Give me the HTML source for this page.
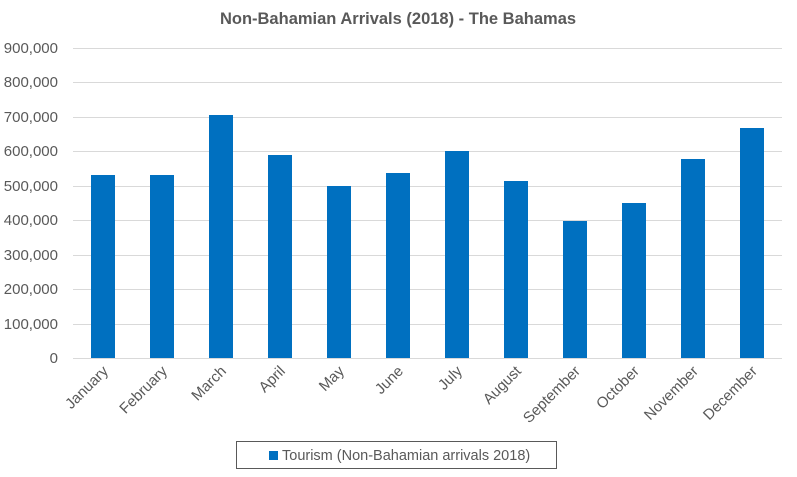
<!DOCTYPE html>
<html><head><style>body{margin:0;background:#fff}</style></head><body>
<svg width="797" height="472" xmlns="http://www.w3.org/2000/svg" font-family="Liberation Sans, sans-serif">
<rect width="797" height="472" fill="#fff"/>
<text x="398" y="24" text-anchor="middle" font-size="16.5" font-weight="bold" fill="#595959">Non-Bahamian Arrivals (2018) - The Bahamas</text>
<g stroke="#d9d9d9" stroke-width="1">
<line x1="73" x2="782" y1="48.5" y2="48.5"/><line x1="73" x2="782" y1="82.5" y2="82.5"/><line x1="73" x2="782" y1="117.5" y2="117.5"/><line x1="73" x2="782" y1="151.5" y2="151.5"/><line x1="73" x2="782" y1="186.5" y2="186.5"/><line x1="73" x2="782" y1="220.5" y2="220.5"/><line x1="73" x2="782" y1="255.5" y2="255.5"/><line x1="73" x2="782" y1="289.5" y2="289.5"/><line x1="73" x2="782" y1="324.5" y2="324.5"/><line x1="73" x2="782" y1="358.5" y2="358.5"/>
</g>
<g font-size="15" fill="#595959" text-anchor="end">
<text x="58" y="53">900,000</text><text x="58" y="87">800,000</text><text x="58" y="122">700,000</text><text x="58" y="156">600,000</text><text x="58" y="191">500,000</text><text x="58" y="225">400,000</text><text x="58" y="260">300,000</text><text x="58" y="294">200,000</text><text x="58" y="329">100,000</text><text x="58" y="363">0</text>
</g>
<g fill="#0070c0">
<rect x="91" y="175" width="24" height="183"/><rect x="150" y="175" width="24" height="183"/><rect x="209" y="115" width="24" height="243"/><rect x="268" y="155" width="24" height="203"/><rect x="327" y="186" width="24" height="172"/><rect x="386" y="173" width="24" height="185"/><rect x="445" y="151" width="24" height="207"/><rect x="504" y="181" width="24" height="177"/><rect x="563" y="221" width="24" height="137"/><rect x="622" y="203" width="24" height="155"/><rect x="681" y="159" width="24" height="199"/><rect x="740" y="128" width="24" height="230"/>
</g>
<g font-size="15" fill="#595959" text-anchor="end">
<text transform="translate(109,372) rotate(-45)">January</text>
<text transform="translate(168,372) rotate(-45)">February</text>
<text transform="translate(227,372) rotate(-45)">March</text>
<text transform="translate(286,372) rotate(-45)">April</text>
<text transform="translate(345,372) rotate(-45)">May</text>
<text transform="translate(404,372) rotate(-45)">June</text>
<text transform="translate(463,372) rotate(-45)">July</text>
<text transform="translate(522,372) rotate(-45)">August</text>
<text transform="translate(581,372) rotate(-45)">September</text>
<text transform="translate(640,372) rotate(-45)">October</text>
<text transform="translate(699,372) rotate(-45)">November</text>
<text transform="translate(758,372) rotate(-45)">December</text>
</g>
<rect x="236.5" y="441.5" width="320" height="27" fill="#fff" stroke="#595959"/>
<rect x="269" y="451" width="9" height="9" fill="#0070c0"/>
<text x="282" y="460" font-size="14.5" fill="#595959">Tourism (Non-Bahamian arrivals 2018)</text>
</svg>
</body></html>
